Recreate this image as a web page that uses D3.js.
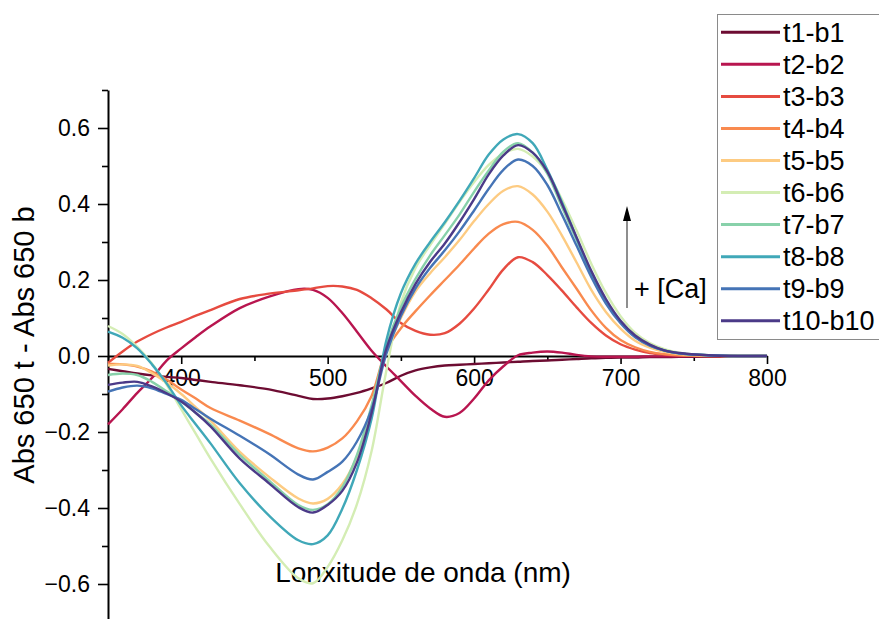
<!DOCTYPE html>
<html>
<head>
<meta charset="utf-8">
<script src="https://cdn.jsdelivr.net/npm/d3@7"></script>
<style>
  body { margin: 0; background: #fff; }
  svg text { font-family: "Liberation Sans", Arial, Helvetica, sans-serif; fill: #000; }
</style>
</head>
<body>
<svg id="chart" width="879" height="619"></svg>
<script>
// Wavelength grid (nm) shared by every difference spectrum
const wavelengths = [350,360,370,380,390,400,410,420, 440,460,480,490,500,510,520,530,
  540,550,560,570,580,590,600,610, 620,630,640,650,660,670,680,690,
  700,710,720,730,740,760,780,800];

// Absorbance differences (t - b) for each titration step
const t1_b1 = [-0.034,-0.040,-0.046,-0.051,-0.055,-0.058,-0.063,-0.068,
  -0.077,-0.088,-0.105,-0.113,-0.112,-0.106,-0.097,-0.085,
  -0.071,-0.052,-0.038,-0.030,-0.025,-0.023,-0.021,-0.019,
  -0.017,-0.015,-0.013,-0.012,-0.010,-0.008,-0.006,-0.005,
  -0.004,-0.004,-0.003,-0.003,-0.002,-0.002,-0.001,0.000];
const t2_b2 = [-0.180,-0.140,-0.097,-0.058,-0.012,0.020,0.050,0.078,
  0.126,0.156,0.176,0.174,0.153,0.113,0.064,0.014,
  -0.027,-0.066,-0.105,-0.138,-0.160,-0.150,-0.112,-0.064,
  -0.027,0.002,0.009,0.012,0.009,0.003,-0.001,-0.002,
  -0.002,-0.002,-0.001,-0.001,-0.001,0.000,0.000,0.000];
const t3_b3 = [-0.018,0.012,0.038,0.058,0.075,0.090,0.106,0.121,
  0.150,0.164,0.173,0.178,0.184,0.183,0.174,0.152,
  0.123,0.087,0.066,0.056,0.060,0.085,0.125,0.175,
  0.228,0.260,0.247,0.213,0.172,0.128,0.087,0.054,
  0.031,0.017,0.008,0.004,0.002,0.000,0.000,0.000];
const t4_b4 = [-0.020,-0.022,-0.028,-0.041,-0.062,-0.088,-0.112,-0.137,
  -0.170,-0.205,-0.243,-0.251,-0.241,-0.217,-0.172,-0.105,
  0.015,0.073,0.118,0.160,0.200,0.240,0.283,0.322,
  0.347,0.353,0.332,0.290,0.233,0.177,0.120,0.074,
  0.042,0.023,0.011,0.005,0.002,0.000,0.000,0.000];
const t5_b5 = [-0.025,-0.022,-0.026,-0.045,-0.070,-0.100,-0.135,-0.170,
  -0.252,-0.318,-0.375,-0.388,-0.376,-0.337,-0.265,-0.140,
  0.010,0.100,0.170,0.218,0.260,0.305,0.355,0.400,
  0.435,0.447,0.425,0.380,0.317,0.246,0.174,0.116,
  0.072,0.040,0.022,0.011,0.005,0.001,0.000,0.000];
const t6_b6 = [0.079,0.058,0.024,-0.020,-0.075,-0.140,-0.205,-0.270,
  -0.390,-0.500,-0.585,-0.598,-0.555,-0.485,-0.390,-0.250,
  -0.040,0.140,0.232,0.292,0.348,0.405,0.458,0.503,
  0.533,0.545,0.525,0.482,0.412,0.330,0.243,0.166,
  0.105,0.061,0.034,0.018,0.009,0.002,0.000,0.000];
const t7_b7 = [-0.050,-0.046,-0.050,-0.068,-0.093,-0.120,-0.150,-0.180,
  -0.260,-0.328,-0.392,-0.405,-0.390,-0.345,-0.260,-0.130,
  0.025,0.128,0.203,0.265,0.318,0.372,0.432,0.488,
  0.538,0.560,0.535,0.480,0.392,0.305,0.218,0.146,
  0.090,0.052,0.029,0.015,0.007,0.002,0.000,0.000];
const t8_b8 = [0.064,0.048,0.020,-0.022,-0.072,-0.130,-0.180,-0.230,
  -0.335,-0.420,-0.485,-0.495,-0.472,-0.402,-0.300,-0.165,
  0.040,0.165,0.243,0.300,0.352,0.408,0.468,0.530,
  0.570,0.584,0.560,0.490,0.405,0.310,0.218,0.145,
  0.090,0.051,0.028,0.014,0.007,0.002,0.000,0.000];
const t9_b9 = [-0.094,-0.083,-0.078,-0.085,-0.100,-0.115,-0.140,-0.165,
  -0.210,-0.258,-0.312,-0.325,-0.305,-0.278,-0.225,-0.140,
  0.005,0.105,0.178,0.232,0.278,0.328,0.383,0.440,
  0.490,0.517,0.500,0.450,0.372,0.290,0.208,0.138,
  0.086,0.049,0.027,0.014,0.007,0.002,0.000,0.000];
const t10_b10 = [-0.076,-0.070,-0.068,-0.080,-0.098,-0.120,-0.150,-0.185,
  -0.270,-0.335,-0.398,-0.412,-0.392,-0.355,-0.280,-0.150,
  0.018,0.115,0.190,0.248,0.296,0.352,0.413,0.478,
  0.528,0.555,0.535,0.485,0.400,0.312,0.224,0.150,
  0.093,0.054,0.030,0.015,0.008,0.002,0.000,0.000];

const seriesNames = ["t1-b1","t2-b2","t3-b3","t4-b4","t5-b5","t6-b6","t7-b7","t8-b8","t9-b9","t10-b10"];
const seriesValues = [t1_b1,t2_b2,t3_b3,t4_b4,t5_b5,t6_b6,t7_b7,t8_b8,t9_b9,t10_b10];
const seriesColors = ["#6d0c32","#b8154f","#e64b40","#f98a4f","#fdcb82",
                      "#d4edb4","#88d1aa","#40a8b8","#4574b6","#4b3a88"];

const xMajorTicks = [400,500,600,700,800];
const xMinorTicks = [350,450,550,650,750];
const yMajorTicks = [-0.6,-0.4,-0.2,0.0,0.2,0.4,0.6];
const yMinorTicks = [-0.7,-0.5,-0.3,-0.1,0.1,0.3,0.5,0.7];

const svg = d3.select("#chart");

const x = d3.scaleLinear().domain([350, 800]).range([108, 767]);
const y = d3.scaleLinear().domain([-0.7, 0.7]).range([622, 90]);

// Left axis: labelled major ticks plus short unlabelled minor ticks
const yAxisG = svg.append("g").attr("transform", `translate(${x(350)},0)`);
yAxisG.call(d3.axisLeft(y).tickValues(yMajorTicks).tickFormat(d3.format(".1f"))
  .tickSize(10).tickSizeOuter(0).tickPadding(8));
yAxisG.append("g").call(d3.axisLeft(y).tickValues(yMinorTicks).tickFormat("")
  .tickSize(6).tickSizeOuter(0)).select(".domain").remove();
yAxisG.selectAll("text").style("font-size", "23px");

// Bottom axis drawn along the zero line
const xAxisG = svg.append("g").attr("transform", `translate(0,${y(0)})`);
xAxisG.call(d3.axisBottom(x).tickValues(xMajorTicks).tickFormat(d3.format("d"))
  .tickSize(8).tickSizeOuter(0).tickPadding(6));
xAxisG.append("g").call(d3.axisBottom(x).tickValues(xMinorTicks).tickFormat("")
  .tickSize(5).tickSizeOuter(0)).select(".domain").remove();
xAxisG.selectAll("text").style("font-size", "23px");

svg.selectAll(".domain").attr("stroke", "#000").attr("stroke-width", 2);
svg.selectAll(".tick line").attr("stroke", "#000").attr("stroke-width", 1.6);

// Axis titles
svg.append("text")
  .attr("x", 423).attr("y", 582)
  .attr("text-anchor", "middle")
  .style("font-size", "28px")
  .text("Lonxitude de onda (nm)");

svg.append("text")
  .attr("transform", "translate(34,345) rotate(-90)")
  .attr("text-anchor", "middle")
  .style("font-size", "29px")
  .text("Abs 650 t - Abs 650 b");

// Spectra
const line = d3.line()
  .x((d, i) => x(wavelengths[i]))
  .y(d => y(d))
  .curve(d3.curveCatmullRom.alpha(0.5));

svg.append("g").selectAll("path")
  .data(seriesValues)
  .join("path")
  .attr("d", d => line(d))
  .attr("fill", "none")
  .attr("stroke", (d, i) => seriesColors[i])
  .attr("stroke-width", 2.4)
  .attr("stroke-linejoin", "round");

// Calcium addition arrow
svg.append("line")
  .attr("x1", 627).attr("x2", 627)
  .attr("y1", 308).attr("y2", 218)
  .attr("stroke", "#444").attr("stroke-width", 1.2);
svg.append("path")
  .attr("d", "M627,206 L623,221 L631,221 Z")
  .attr("fill", "#000");
svg.append("text")
  .attr("x", 634).attr("y", 298)
  .style("font-size", "27px")
  .text("+ [Ca]");

// Legend
const legend = svg.append("g");
legend.append("rect")
  .attr("x", 717.5).attr("y", 14.5)
  .attr("width", 200).attr("height", 325)
  .attr("fill", "#fff").attr("stroke", "#8a8a8a").attr("stroke-width", 1);

const rows = legend.selectAll("g.row")
  .data(seriesNames)
  .join("g")
  .attr("class", "row")
  .attr("transform", (d, i) => `translate(0,${32.3 + i * 32.05})`);
rows.append("line")
  .attr("x1", 721).attr("x2", 780)
  .attr("stroke", (d, i) => seriesColors[i])
  .attr("stroke-width", 3);
rows.append("text")
  .attr("x", 783).attr("dy", "0.35em")
  .style("font-size", "27px")
  .text(d => d);
</script>
</body>
</html>
